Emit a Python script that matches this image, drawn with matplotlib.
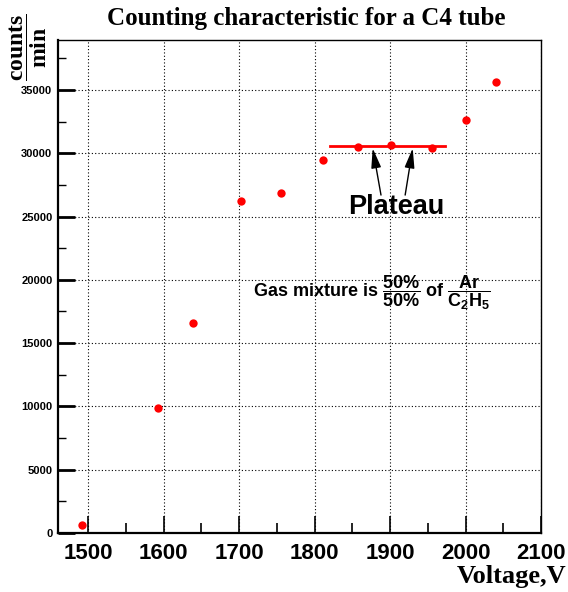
import numpy as np
import matplotlib
matplotlib.use('Agg')
import matplotlib.pyplot as plt
from matplotlib.ticker import MultipleLocator

plt.rcParams['mathtext.fontset'] = 'custom'
plt.rcParams['mathtext.sf'] = 'Liberation Sans:bold'
plt.rcParams['mathtext.rm'] = 'Liberation Sans:bold'
plt.rcParams['mathtext.bf'] = 'Liberation Serif:bold'

# measured points
voltage = [1492, 1593, 1639, 1702, 1756, 1811, 1857, 1901, 1955, 2000, 2040]
counts = [600, 9900, 16600, 26250, 26900, 29450, 30500, 30650, 30450, 32650, 35600]

# plateau level
plateau_x = [1821, 1973]
plateau_y = [30570, 30570]

fig = plt.figure(figsize=(5.68, 5.92), dpi=100)
ax = fig.add_axes([0.102, 0.0997, 0.8505, 0.8327])

ax.plot(voltage, counts, 'o', color='red', markersize=6, markeredgewidth=0)
ax.plot(plateau_x, plateau_y, '-', color='red', lw=2)

ax.set_xlim(1460, 2100)
ax.set_ylim(0, 38950)

ax.xaxis.set_major_locator(MultipleLocator(100))
ax.xaxis.set_minor_locator(MultipleLocator(50))
ax.yaxis.set_major_locator(MultipleLocator(5000))
ax.yaxis.set_minor_locator(MultipleLocator(2500))
ax.tick_params(axis='both', which='both', direction='in', top=False, right=False)
ax.tick_params(axis='x', which='major', length=12, width=1.2, pad=7)
ax.tick_params(axis='x', which='minor', length=7, width=1.2)
ax.tick_params(axis='y', which='major', length=12, width=2, pad=4)
ax.tick_params(axis='y', which='minor', length=6, width=1)
for lab in ax.get_xticklabels():
    lab.set_fontfamily('Liberation Sans')
    lab.set_fontweight('bold')
    lab.set_fontsize(16)
for lab in ax.get_yticklabels():
    lab.set_fontfamily('Liberation Sans')
    lab.set_fontweight('bold')
    lab.set_fontsize(8)

ax.grid(True, which='major', color='black', linestyle=(0, (1, 2)), linewidth=0.8)
for s in ['left', 'bottom']:
    ax.spines[s].set_linewidth(1.6)
for s in ['top', 'right']:
    ax.spines[s].set_linewidth(1.0)

fig.text(0.54, 0.968, 'Counting characteristic for a C4 tube', ha='center', va='center',
         fontfamily='Liberation Serif', fontweight='bold', fontsize=18)
fig.text(0.997, 0.026, 'Voltage,V', ha='right', va='center',
         fontfamily='Liberation Serif', fontweight='bold', fontsize=19)
fig.text(0.049, 0.921, r'$\mathbf{\dfrac{counts}{min}}$', rotation=90, ha='center', va='center',
         fontsize=17)

ax.text(1908, 25750, 'Plateau', ha='center', va='center', fontfamily='Liberation Sans',
        fontweight='bold', fontsize=19.5)
for tail, head in [((1888, 26700), (1877, 30400)), ((1920, 26700), (1930, 30400))]:
    ax.annotate('', xy=head, xytext=tail,
                arrowprops=dict(arrowstyle='-|>,head_length=1.2,head_width=0.3',
                                color='black', lw=1, shrinkA=0, shrinkB=0))

ax.text(1718, 18950, r'Gas mixture is $\dfrac{\mathsf{50\%}}{\mathsf{50\%}}$ of $\dfrac{\mathsf{Ar}}{\mathsf{C_2H_5}}$',
        ha='left', va='center', fontfamily='Liberation Sans', fontweight='bold', fontsize=13)

fig.savefig('out.png', dpi=100)
